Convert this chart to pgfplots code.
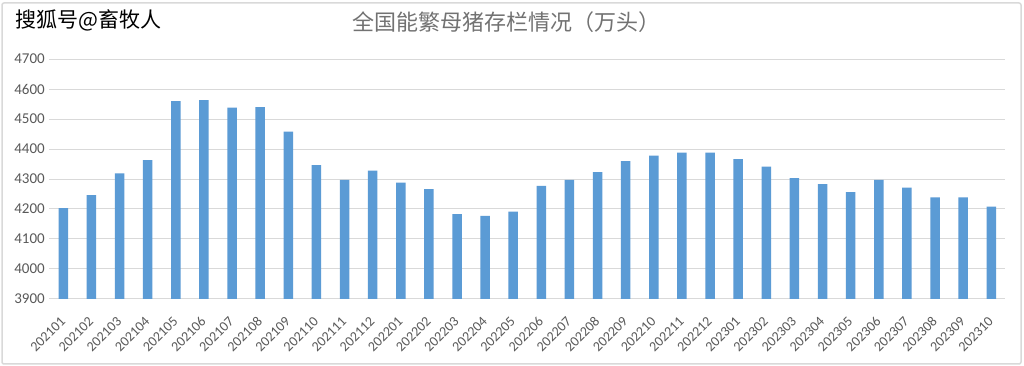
\documentclass[border=0pt]{standalone}
\usepackage{pgfplots}
\usepackage{pgfplotstable}
\pgfplotsset{compat=1.18}
\usepackage{fontspec}
\setmainfont{Carlito}
\newfontfamily\cjk{Noto Sans CJK SC}
\definecolor{barblue}{RGB}{91,155,213}
\definecolor{txtgray}{RGB}{89,89,89}
\definecolor{gridgray}{RGB}{217,217,217}
\pgfplotstableread{
x y
0 4203
1 4246
2 4319
3 4363
4 4560
5 4563
6 4538
7 4540
8 4458
9 4346
10 4297
11 4328
12 4288
13 4266
14 4183
15 4177
16 4191
17 4277
18 4297
19 4323
20 4360
21 4378
22 4388
23 4388
24 4366
25 4341
26 4303
27 4283
28 4256
29 4297
30 4271
31 4239
32 4239
33 4208
}\datatable
\begin{document}
\begin{tikzpicture}[x=1pt,y=1pt]
\useasboundingbox (0,0) rectangle (1024,366);
\fill[white] (0,0) rectangle (1024,366);
\draw[gray!30, line width=1.5pt, rounded corners=2pt] (2,2) rectangle (1021,363);
\begin{axis}[
  at={(49.3pt,67pt)}, anchor=south west,
  scale only axis, width=956pt, height=240pt,
  xmin=-0.5, xmax=33.5, ymin=3900, ymax=4700,
  ytick={3900,4000,...,4700},
  xtick=data,
  xticklabels={202101,202102,202103,202104,202105,202106,202107,202108,202109,202110,202111,202112,202201,202202,202203,202204,202205,202206,202207,202208,202209,202210,202211,202212,202301,202302,202303,202304,202305,202306,202307,202308,202309,202310},
  ymajorgrids, major grid style={draw=gridgray, line width=1pt},
  axis line style={draw=none}, tick style={draw=none},
  /pgf/number format/1000 sep={},
  /pgf/number format/assume math mode=true,
  yticklabel style={font=\fontsize{15}{15}\selectfont, text=txtgray, xshift=-1pt},
  xticklabel style={font=\fontsize{14}{14}\selectfont, text=txtgray, xshift=2pt, yshift=-18pt, rotate=45, anchor=east},
]
\addplot[ybar, bar width=9.5pt, bar shift=0pt, fill=barblue, draw=none] table[x=x,y=y]{\datatable};
\end{axis}
\node[anchor=west, text=black] at (12,346) {\cjk\fontsize{21}{21}\selectfont 搜狐号@畜牧人};
\node[text=txtgray!85] at (506.5,344) {\cjk\fontsize{22}{22}\selectfont 全国能繁母猪存栏情况（万头）};
\end{tikzpicture}
\end{document}
